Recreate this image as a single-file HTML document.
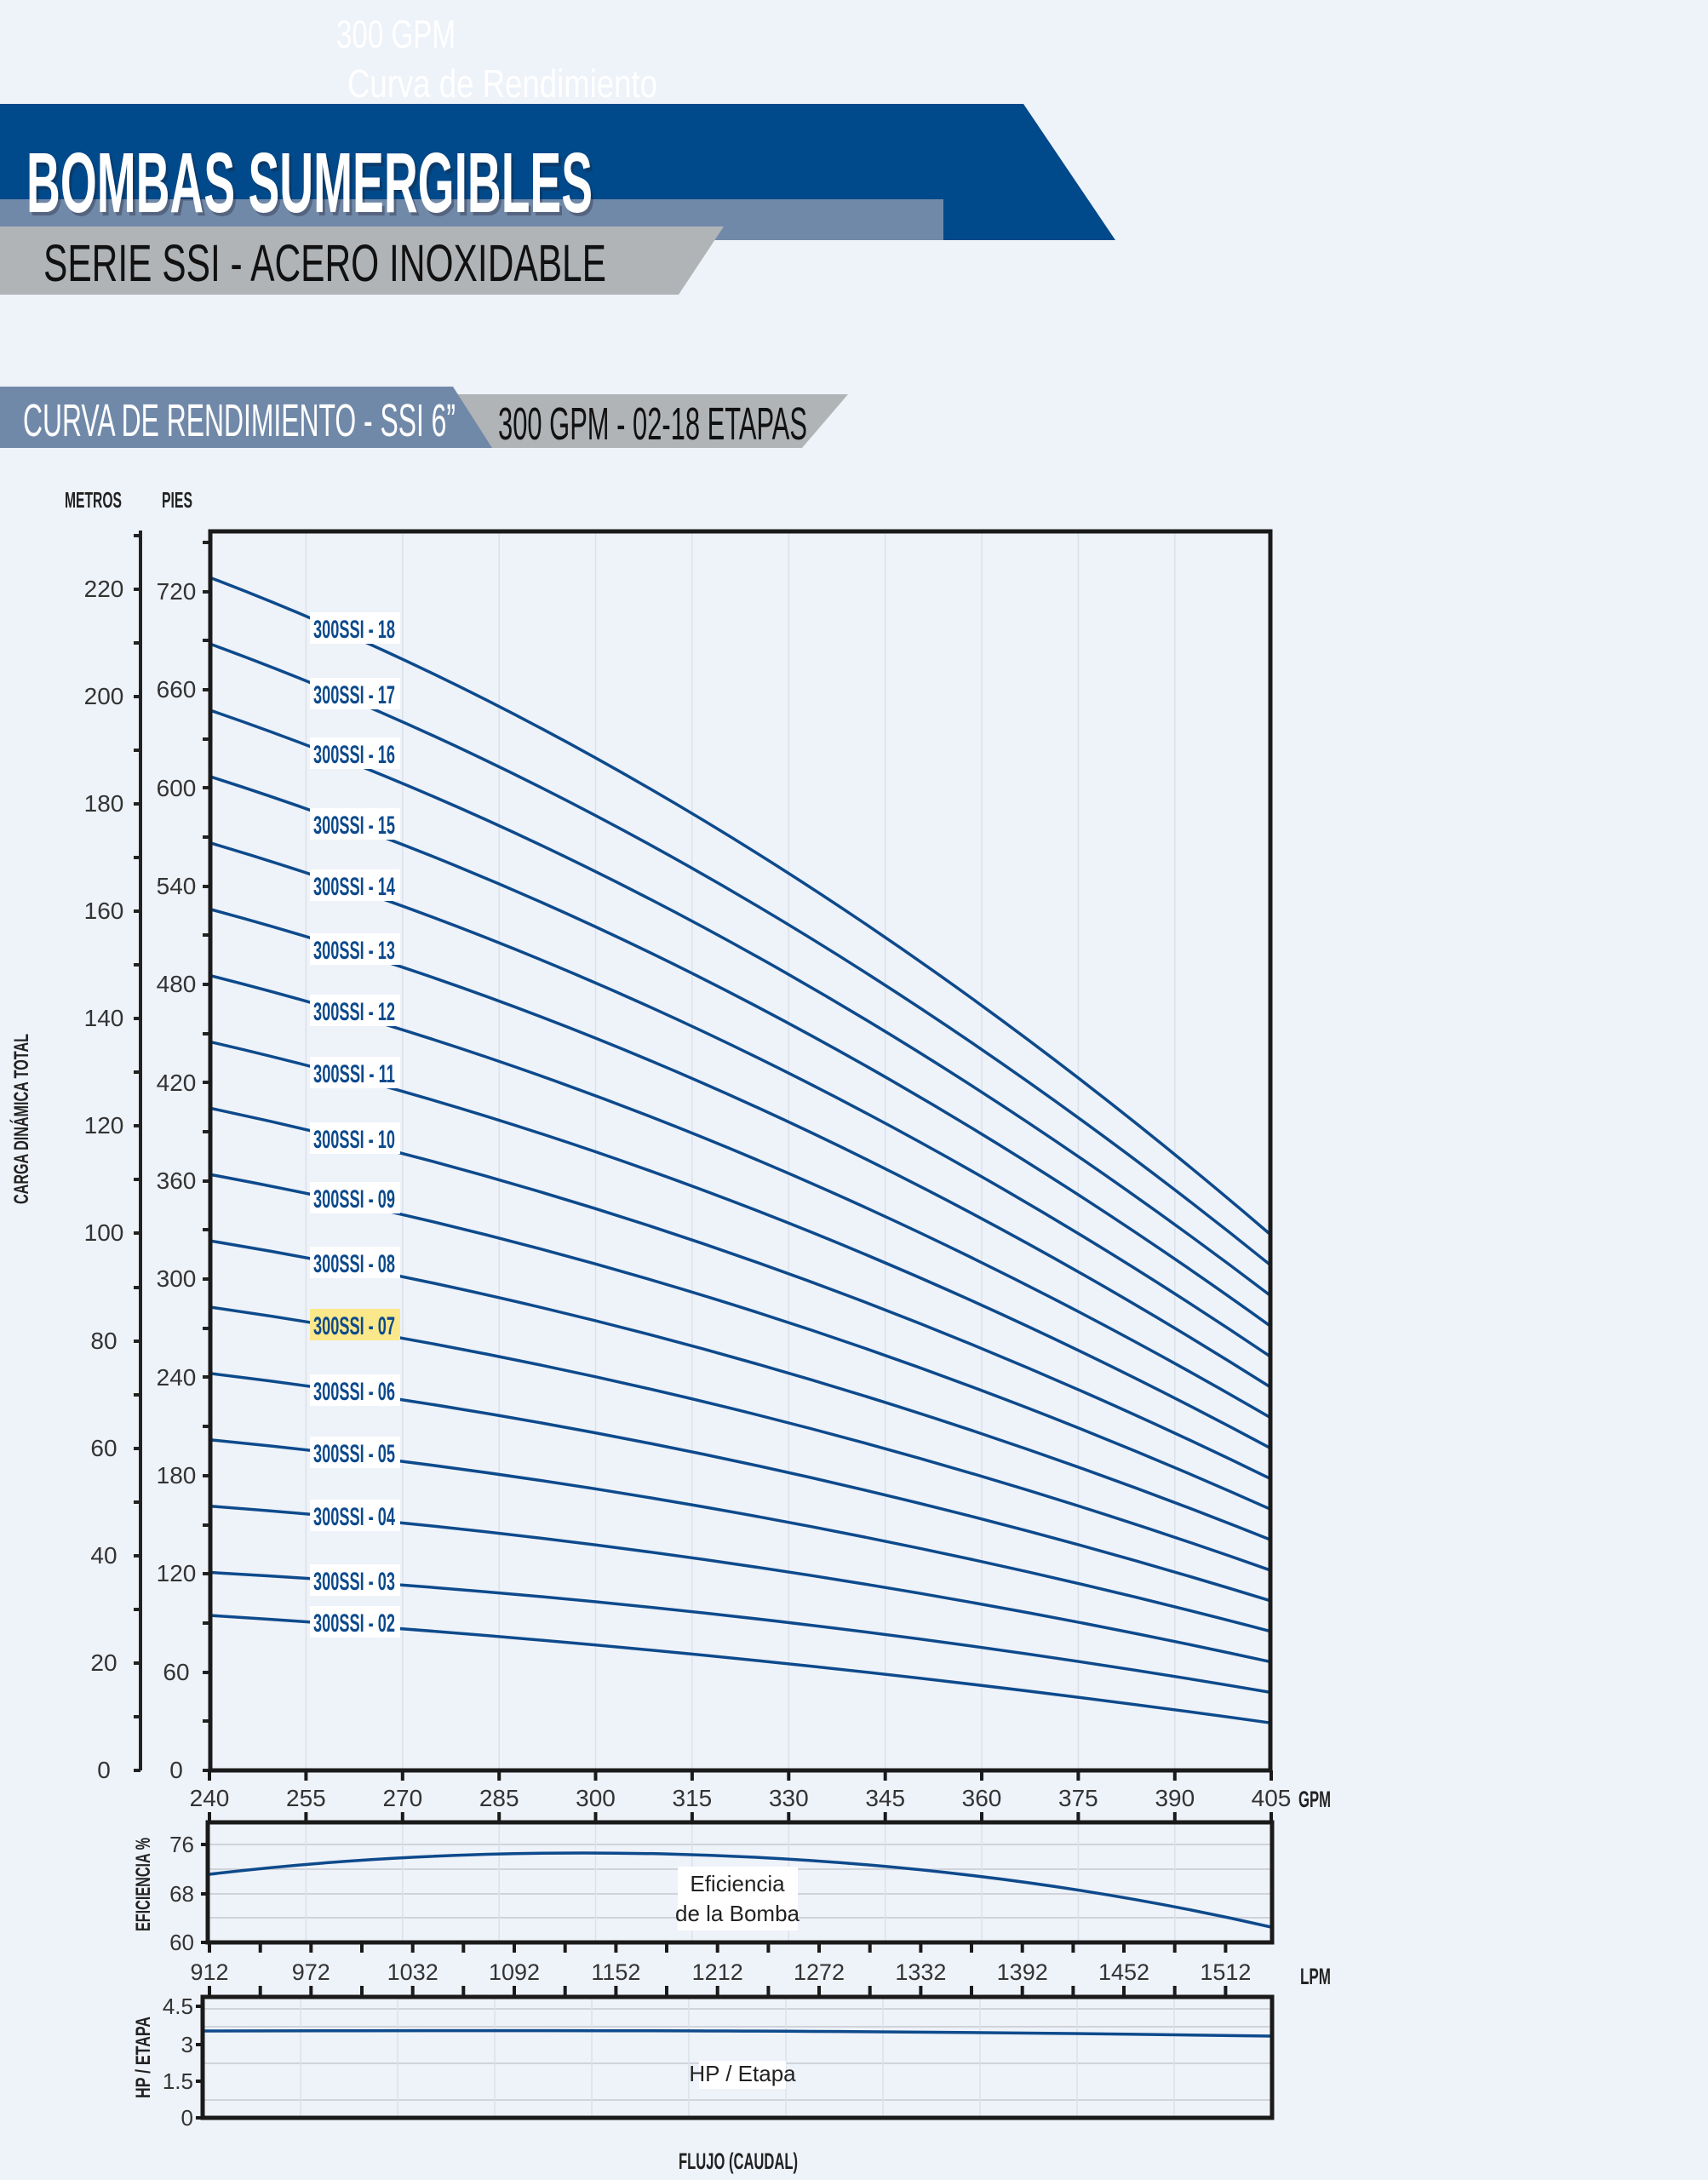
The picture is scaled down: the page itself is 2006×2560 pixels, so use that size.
<!DOCTYPE html>
<html><head><meta charset="utf-8"><style>
html,body{margin:0;padding:0;background:#eef2f9;}
svg{display:block;}
text{font-family:"Liberation Sans Narrow","Liberation Sans",sans-serif;}
</style></head><body>
<svg width="2006" height="2560" viewBox="0 0 2006 2560" xmlns="http://www.w3.org/2000/svg">
<rect width="2006" height="2560" fill="#eef2f9"/>
<!-- header -->
<text x="395" y="56" font-size="46" fill="#ffffff" textLength="140" lengthAdjust="spacingAndGlyphs">300 GPM</text>
<text x="408" y="114" font-size="46" fill="#ffffff" textLength="364" lengthAdjust="spacingAndGlyphs">Curva de Rendimiento</text>
<polygon points="0,122 1202,122 1310,282 0,282" fill="#00498a"/>
<rect x="0" y="234" width="1108" height="48" fill="#7189a9"/>
<polygon points="0,266 850,266 797,346 0,346" fill="#b1b4b7"/>
<text x="34" y="253" font-size="100" font-weight="bold" fill="#223" opacity="0.35" textLength="665" lengthAdjust="spacingAndGlyphs">BOMBAS SUMERGIBLES</text>
<text x="31" y="249" font-size="100" font-weight="bold" fill="#ffffff" textLength="665" lengthAdjust="spacingAndGlyphs">BOMBAS SUMERGIBLES</text>
<text x="51" y="330" font-size="61" fill="#111" textLength="661" lengthAdjust="spacingAndGlyphs">SERIE SSI - ACERO INOXIDABLE</text>
<polygon points="532,463 996,463 942,526 578,526" fill="#b1b4b7"/>
<polygon points="0,454 532,454 578,526 0,526" fill="#7189a9"/>
<text x="27" y="512" font-size="54" fill="#ffffff" textLength="508" lengthAdjust="spacingAndGlyphs">CURVA DE RENDIMIENTO - SSI 6”</text>
<text x="585" y="516" font-size="54" fill="#111" textLength="363" lengthAdjust="spacingAndGlyphs">300 GPM - 02-18 ETAPAS</text>

<!-- axis titles -->
<text x="76" y="596" font-size="26" font-weight="bold" fill="#222" textLength="67" lengthAdjust="spacingAndGlyphs">METROS</text>
<text x="190" y="596" font-size="26" font-weight="bold" fill="#222" textLength="36" lengthAdjust="spacingAndGlyphs">PIES</text>
<text transform="translate(33,1314) rotate(-90)" text-anchor="middle" font-size="24" font-weight="bold" fill="#222" textLength="200" lengthAdjust="spacingAndGlyphs">CARGA DINÁMICA TOTAL</text>

<!-- main plot grid -->
<g stroke="#dbe1ea" stroke-width="1.5">
<line x1="359.4" y1="623" x2="359.4" y2="2079"/><line x1="472.8" y1="623" x2="472.8" y2="2079"/><line x1="586.2" y1="623" x2="586.2" y2="2079"/><line x1="699.5" y1="623" x2="699.5" y2="2079"/><line x1="812.9" y1="623" x2="812.9" y2="2079"/><line x1="926.3" y1="623" x2="926.3" y2="2079"/><line x1="1039.7" y1="623" x2="1039.7" y2="2079"/><line x1="1153" y1="623" x2="1153" y2="2079"/><line x1="1266.4" y1="623" x2="1266.4" y2="2079"/><line x1="1379.8" y1="623" x2="1379.8" y2="2079"/>
</g>

<!-- metros axis -->
<line x1="165" y1="623" x2="165" y2="2079" stroke="#222" stroke-width="4"/>
<g stroke="#222" stroke-width="4">
<line x1="157" y1="2079" x2="165" y2="2079"/><line x1="157" y1="2016" x2="165" y2="2016"/><line x1="157" y1="1953" x2="165" y2="1953"/><line x1="157" y1="1890" x2="165" y2="1890"/><line x1="157" y1="1827" x2="165" y2="1827"/><line x1="157" y1="1764" x2="165" y2="1764"/><line x1="157" y1="1701" x2="165" y2="1701"/><line x1="157" y1="1638" x2="165" y2="1638"/><line x1="157" y1="1575" x2="165" y2="1575"/><line x1="157" y1="1512" x2="165" y2="1512"/><line x1="157" y1="1448" x2="165" y2="1448"/><line x1="157" y1="1385" x2="165" y2="1385"/><line x1="157" y1="1322" x2="165" y2="1322"/><line x1="157" y1="1259" x2="165" y2="1259"/><line x1="157" y1="1196" x2="165" y2="1196"/><line x1="157" y1="1133" x2="165" y2="1133"/><line x1="157" y1="1070" x2="165" y2="1070"/><line x1="157" y1="1007" x2="165" y2="1007"/><line x1="157" y1="944" x2="165" y2="944"/><line x1="157" y1="881" x2="165" y2="881"/><line x1="157" y1="818" x2="165" y2="818"/><line x1="157" y1="755" x2="165" y2="755"/><line x1="157" y1="692" x2="165" y2="692"/><line x1="157" y1="629" x2="165" y2="629"/>
</g>
<g font-size="28" fill="#333" text-anchor="middle">
<text x="122" y="2088">0</text><text x="122" y="1962">20</text><text x="122" y="1836">40</text><text x="122" y="1710">60</text><text x="122" y="1584">80</text><text x="122" y="1457">100</text><text x="122" y="1331">120</text><text x="122" y="1205">140</text><text x="122" y="1079">160</text><text x="122" y="953">180</text><text x="122" y="827">200</text><text x="122" y="701">220</text>
</g>
<!-- pies ticks -->
<g stroke="#222" stroke-width="4">
<line x1="238" y1="2079" x2="247" y2="2079"/><line x1="238" y1="2021" x2="247" y2="2021"/><line x1="238" y1="1964" x2="247" y2="1964"/><line x1="238" y1="1906" x2="247" y2="1906"/><line x1="238" y1="1848" x2="247" y2="1848"/><line x1="238" y1="1791" x2="247" y2="1791"/><line x1="238" y1="1733" x2="247" y2="1733"/><line x1="238" y1="1675" x2="247" y2="1675"/><line x1="238" y1="1617" x2="247" y2="1617"/><line x1="238" y1="1560" x2="247" y2="1560"/><line x1="238" y1="1502" x2="247" y2="1502"/><line x1="238" y1="1444" x2="247" y2="1444"/><line x1="238" y1="1387" x2="247" y2="1387"/><line x1="238" y1="1329" x2="247" y2="1329"/><line x1="238" y1="1271" x2="247" y2="1271"/><line x1="238" y1="1214" x2="247" y2="1214"/><line x1="238" y1="1156" x2="247" y2="1156"/><line x1="238" y1="1098" x2="247" y2="1098"/><line x1="238" y1="1041" x2="247" y2="1041"/><line x1="238" y1="983" x2="247" y2="983"/><line x1="238" y1="925" x2="247" y2="925"/><line x1="238" y1="868" x2="247" y2="868"/><line x1="238" y1="810" x2="247" y2="810"/><line x1="238" y1="752" x2="247" y2="752"/><line x1="238" y1="695" x2="247" y2="695"/><line x1="238" y1="637" x2="247" y2="637"/>
</g>
<g font-size="28" fill="#333" text-anchor="middle">
<text x="207" y="2088">0</text><text x="207" y="1973">60</text><text x="207" y="1857">120</text><text x="207" y="1742">180</text><text x="207" y="1627">240</text><text x="207" y="1511">300</text><text x="207" y="1396">360</text><text x="207" y="1281">420</text><text x="207" y="1165">480</text><text x="207" y="1050">540</text><text x="207" y="935">600</text><text x="207" y="819">660</text><text x="207" y="704">720</text>
</g>

<!-- curves -->
<g fill="none" stroke="#0d4a8c" stroke-width="3.5">
<path d="M246 1897 Q869.5 1935.9 1493 2023.3"/>
<path d="M246 1846.5 Q869.5 1880.7 1493 1987.5"/>
<path d="M246 1768.6 Q869.5 1814.9 1493 1951.7"/>
<path d="M246 1690.7 Q869.5 1751.1 1493 1915.9"/>
<path d="M246 1612.8 Q869.5 1687.3 1493 1880.1"/>
<path d="M246 1534.9 Q869.5 1623.4 1493 1844.3"/>
<path d="M246 1457 Q869.5 1559.6 1493 1808.5"/>
<path d="M246 1379.1 Q869.5 1493.8 1493 1772.7"/>
<path d="M246 1301.2 Q869.5 1432 1493 1736.9"/>
<path d="M246 1223.3 Q869.5 1366.1 1493 1701.1"/>
<path d="M246 1145.4 Q869.5 1302.3 1493 1665.3"/>
<path d="M246 1067.5 Q869.5 1234.5 1493 1629.5"/>
<path d="M246 989.6 Q869.5 1172.7 1493 1593.7"/>
<path d="M246 911.7 Q869.5 1108.8 1493 1557.9"/>
<path d="M246 833.8 Q869.5 1047 1493 1522.1"/>
<path d="M246 755.9 Q869.5 983.2 1493 1486.3"/>
<path d="M246 678 Q869.5 915.3 1493 1450.5"/>
</g>

<!-- labels -->
<g font-size="30" font-weight="bold" fill="#0d4a8c">
<rect x="364" y="719" width="106" height="37" fill="#fff"/><text x="368" y="749" textLength="96" lengthAdjust="spacingAndGlyphs">300SSI - 18</text>
<rect x="364" y="796" width="106" height="37" fill="#fff"/><text x="368" y="826" textLength="96" lengthAdjust="spacingAndGlyphs">300SSI - 17</text>
<rect x="364" y="866" width="106" height="37" fill="#fff"/><text x="368" y="896" textLength="96" lengthAdjust="spacingAndGlyphs">300SSI - 16</text>
<rect x="364" y="949" width="106" height="37" fill="#fff"/><text x="368" y="979" textLength="96" lengthAdjust="spacingAndGlyphs">300SSI - 15</text>
<rect x="364" y="1021" width="106" height="37" fill="#fff"/><text x="368" y="1051" textLength="96" lengthAdjust="spacingAndGlyphs">300SSI - 14</text>
<rect x="364" y="1096" width="106" height="37" fill="#fff"/><text x="368" y="1126" textLength="96" lengthAdjust="spacingAndGlyphs">300SSI - 13</text>
<rect x="364" y="1168" width="106" height="37" fill="#fff"/><text x="368" y="1198" textLength="96" lengthAdjust="spacingAndGlyphs">300SSI - 12</text>
<rect x="364" y="1241" width="106" height="37" fill="#fff"/><text x="368" y="1271" textLength="96" lengthAdjust="spacingAndGlyphs">300SSI - 11</text>
<rect x="364" y="1318" width="106" height="37" fill="#fff"/><text x="368" y="1348" textLength="96" lengthAdjust="spacingAndGlyphs">300SSI - 10</text>
<rect x="364" y="1388" width="106" height="37" fill="#fff"/><text x="368" y="1418" textLength="96" lengthAdjust="spacingAndGlyphs">300SSI - 09</text>
<rect x="364" y="1464" width="106" height="37" fill="#fff"/><text x="368" y="1494" textLength="96" lengthAdjust="spacingAndGlyphs">300SSI - 08</text>
<rect x="364" y="1537" width="106" height="37" fill="#fbe88a"/><text x="368" y="1567" textLength="96" lengthAdjust="spacingAndGlyphs">300SSI - 07</text>
<rect x="364" y="1614" width="106" height="37" fill="#fff"/><text x="368" y="1644" textLength="96" lengthAdjust="spacingAndGlyphs">300SSI - 06</text>
<rect x="364" y="1687" width="106" height="37" fill="#fff"/><text x="368" y="1717" textLength="96" lengthAdjust="spacingAndGlyphs">300SSI - 05</text>
<rect x="364" y="1761" width="106" height="37" fill="#fff"/><text x="368" y="1791" textLength="96" lengthAdjust="spacingAndGlyphs">300SSI - 04</text>
<rect x="364" y="1837" width="106" height="37" fill="#fff"/><text x="368" y="1867" textLength="96" lengthAdjust="spacingAndGlyphs">300SSI - 03</text>
<rect x="364" y="1886" width="106" height="37" fill="#fff"/><text x="368" y="1916" textLength="96" lengthAdjust="spacingAndGlyphs">300SSI - 02</text>
</g>

<!-- main frame -->
<rect x="247" y="624" width="1245" height="1455" fill="none" stroke="#1a1a1a" stroke-width="5"/>
<!-- gpm ticks -->
<g stroke="#1a1a1a" stroke-width="4">
<line x1="246" y1="2079" x2="246" y2="2091"/><line x1="359.4" y1="2079" x2="359.4" y2="2091"/><line x1="472.8" y1="2079" x2="472.8" y2="2091"/><line x1="586.2" y1="2079" x2="586.2" y2="2091"/><line x1="699.5" y1="2079" x2="699.5" y2="2091"/><line x1="812.9" y1="2079" x2="812.9" y2="2091"/><line x1="926.3" y1="2079" x2="926.3" y2="2091"/><line x1="1039.7" y1="2079" x2="1039.7" y2="2091"/><line x1="1153" y1="2079" x2="1153" y2="2091"/><line x1="1266.4" y1="2079" x2="1266.4" y2="2091"/><line x1="1379.8" y1="2079" x2="1379.8" y2="2091"/><line x1="1493" y1="2079" x2="1493" y2="2091"/>
</g>
<g font-size="28" fill="#333" text-anchor="middle">
<text x="246" y="2121">240</text><text x="359.4" y="2121">255</text><text x="472.8" y="2121">270</text><text x="586.2" y="2121">285</text><text x="699.5" y="2121">300</text><text x="812.9" y="2121">315</text><text x="926.3" y="2121">330</text><text x="1039.7" y="2121">345</text><text x="1153" y="2121">360</text><text x="1266.4" y="2121">375</text><text x="1379.8" y="2121">390</text><text x="1493" y="2121">405</text>
</g>
<text x="1525" y="2122" font-size="27" font-weight="bold" fill="#222" textLength="38" lengthAdjust="spacingAndGlyphs">GPM</text>

<!-- efficiency plot -->
<g stroke="#d0d4da" stroke-width="2">
<line x1="246" y1="2166" x2="1493" y2="2166"/><line x1="246" y1="2195" x2="1493" y2="2195"/><line x1="246" y1="2224" x2="1493" y2="2224"/><line x1="246" y1="2252" x2="1493" y2="2252"/>
</g>
<g stroke="#dbe1ea" stroke-width="1.5">
<line x1="359.4" y1="2139" x2="359.4" y2="2281"/><line x1="472.8" y1="2139" x2="472.8" y2="2281"/><line x1="586.2" y1="2139" x2="586.2" y2="2281"/><line x1="699.5" y1="2139" x2="699.5" y2="2281"/><line x1="812.9" y1="2139" x2="812.9" y2="2281"/><line x1="926.3" y1="2139" x2="926.3" y2="2281"/><line x1="1039.7" y1="2139" x2="1039.7" y2="2281"/><line x1="1153" y1="2139" x2="1153" y2="2281"/><line x1="1266.4" y1="2139" x2="1266.4" y2="2281"/><line x1="1379.8" y1="2139" x2="1379.8" y2="2281"/>
</g>
<path d="M246 2201 C520 2168, 1000 2150, 1493 2263" fill="none" stroke="#0d4a8c" stroke-width="3.5"/>
<rect x="796" y="2192" width="141" height="75" fill="#fff"/>
<text x="866" y="2221" font-size="26" fill="#222" text-anchor="middle">Eficiencia</text>
<text x="866" y="2256" font-size="26" fill="#222" text-anchor="middle">de la Bomba</text>
<rect x="244" y="2140" width="1250" height="141" fill="none" stroke="#1a1a1a" stroke-width="5"/>
<g stroke="#1a1a1a" stroke-width="4">
<line x1="246" y1="2128" x2="246" y2="2140"/><line x1="359.4" y1="2128" x2="359.4" y2="2140"/><line x1="472.8" y1="2128" x2="472.8" y2="2140"/><line x1="586.2" y1="2128" x2="586.2" y2="2140"/><line x1="699.5" y1="2128" x2="699.5" y2="2140"/><line x1="812.9" y1="2128" x2="812.9" y2="2140"/><line x1="926.3" y1="2128" x2="926.3" y2="2140"/><line x1="1039.7" y1="2128" x2="1039.7" y2="2140"/><line x1="1153" y1="2128" x2="1153" y2="2140"/><line x1="1266.4" y1="2128" x2="1266.4" y2="2140"/><line x1="1379.8" y1="2128" x2="1379.8" y2="2140"/><line x1="1493" y1="2128" x2="1493" y2="2140"/>
<line x1="236" y1="2166" x2="244" y2="2166"/><line x1="236" y1="2224" x2="244" y2="2224"/><line x1="236" y1="2281" x2="244" y2="2281"/>
</g>
<g font-size="26" fill="#333" text-anchor="end">
<text x="228" y="2175">76</text><text x="228" y="2233">68</text><text x="228" y="2290">60</text>
</g>
<text transform="translate(176,2213) rotate(-90)" text-anchor="middle" font-size="24" font-weight="bold" fill="#222" textLength="110" lengthAdjust="spacingAndGlyphs">EFICIENCIA %</text>
<!-- LPM ticks -->
<g stroke="#1a1a1a" stroke-width="4">
<line x1="246" y1="2281" x2="246" y2="2293"/><line x1="305.7" y1="2281" x2="305.7" y2="2293"/><line x1="365.3" y1="2281" x2="365.3" y2="2293"/><line x1="425" y1="2281" x2="425" y2="2293"/><line x1="484.7" y1="2281" x2="484.7" y2="2293"/><line x1="544.3" y1="2281" x2="544.3" y2="2293"/><line x1="604" y1="2281" x2="604" y2="2293"/><line x1="663.7" y1="2281" x2="663.7" y2="2293"/><line x1="723.4" y1="2281" x2="723.4" y2="2293"/><line x1="783" y1="2281" x2="783" y2="2293"/><line x1="842.7" y1="2281" x2="842.7" y2="2293"/><line x1="902.4" y1="2281" x2="902.4" y2="2293"/><line x1="962" y1="2281" x2="962" y2="2293"/><line x1="1021.7" y1="2281" x2="1021.7" y2="2293"/><line x1="1081.4" y1="2281" x2="1081.4" y2="2293"/><line x1="1141" y1="2281" x2="1141" y2="2293"/><line x1="1200.7" y1="2281" x2="1200.7" y2="2293"/><line x1="1260.4" y1="2281" x2="1260.4" y2="2293"/><line x1="1320" y1="2281" x2="1320" y2="2293"/><line x1="1379.7" y1="2281" x2="1379.7" y2="2293"/><line x1="1439.4" y1="2281" x2="1439.4" y2="2293"/>
<line x1="246" y1="2332" x2="246" y2="2344"/><line x1="305.7" y1="2332" x2="305.7" y2="2344"/><line x1="365.3" y1="2332" x2="365.3" y2="2344"/><line x1="425" y1="2332" x2="425" y2="2344"/><line x1="484.7" y1="2332" x2="484.7" y2="2344"/><line x1="544.3" y1="2332" x2="544.3" y2="2344"/><line x1="604" y1="2332" x2="604" y2="2344"/><line x1="663.7" y1="2332" x2="663.7" y2="2344"/><line x1="723.4" y1="2332" x2="723.4" y2="2344"/><line x1="783" y1="2332" x2="783" y2="2344"/><line x1="842.7" y1="2332" x2="842.7" y2="2344"/><line x1="902.4" y1="2332" x2="902.4" y2="2344"/><line x1="962" y1="2332" x2="962" y2="2344"/><line x1="1021.7" y1="2332" x2="1021.7" y2="2344"/><line x1="1081.4" y1="2332" x2="1081.4" y2="2344"/><line x1="1141" y1="2332" x2="1141" y2="2344"/><line x1="1200.7" y1="2332" x2="1200.7" y2="2344"/><line x1="1260.4" y1="2332" x2="1260.4" y2="2344"/><line x1="1320" y1="2332" x2="1320" y2="2344"/><line x1="1379.7" y1="2332" x2="1379.7" y2="2344"/><line x1="1439.4" y1="2332" x2="1439.4" y2="2344"/>
</g>
<g font-size="27" fill="#333" text-anchor="middle">
<text x="246" y="2325">912</text><text x="365.3" y="2325">972</text><text x="484.7" y="2325">1032</text><text x="604" y="2325">1092</text><text x="723.4" y="2325">1152</text><text x="842.7" y="2325">1212</text><text x="962" y="2325">1272</text><text x="1081.4" y="2325">1332</text><text x="1200.7" y="2325">1392</text><text x="1320" y="2325">1452</text><text x="1439.4" y="2325">1512</text>
</g>
<text x="1527" y="2330" font-size="27" font-weight="bold" fill="#222" textLength="36" lengthAdjust="spacingAndGlyphs">LPM</text>

<!-- HP plot -->
<g stroke="#d0d4da" stroke-width="2">
<line x1="240" y1="2359" x2="1493" y2="2359"/><line x1="240" y1="2380" x2="1493" y2="2380"/><line x1="240" y1="2423" x2="1493" y2="2423"/><line x1="240" y1="2466" x2="1493" y2="2466"/>
</g>
<g stroke="#dbe1ea" stroke-width="1.5">
<line x1="353" y1="2344" x2="353" y2="2487"/><line x1="467" y1="2344" x2="467" y2="2487"/><line x1="581" y1="2344" x2="581" y2="2487"/><line x1="695" y1="2344" x2="695" y2="2487"/><line x1="809" y1="2344" x2="809" y2="2487"/><line x1="923" y1="2344" x2="923" y2="2487"/><line x1="1037" y1="2344" x2="1037" y2="2487"/><line x1="1151" y1="2344" x2="1151" y2="2487"/><line x1="1265" y1="2344" x2="1265" y2="2487"/><line x1="1379" y1="2344" x2="1379" y2="2487"/>
</g>
<path d="M240 2385 C700 2384, 1000 2384, 1493 2391" fill="none" stroke="#0d4a8c" stroke-width="3.5"/>
<rect x="821" y="2420" width="102" height="33" fill="#fff"/>
<text x="872" y="2444" font-size="26" fill="#222" text-anchor="middle">HP / Etapa</text>
<rect x="238" y="2345" width="1256" height="142" fill="none" stroke="#1a1a1a" stroke-width="5"/>
<g stroke="#1a1a1a" stroke-width="4">
<line x1="230" y1="2356" x2="238" y2="2356"/><line x1="230" y1="2401" x2="238" y2="2401"/><line x1="230" y1="2444" x2="238" y2="2444"/><line x1="230" y1="2487" x2="238" y2="2487"/>
</g>
<g font-size="26" fill="#333" text-anchor="end">
<text x="227" y="2365">4.5</text><text x="227" y="2410">3</text><text x="227" y="2453">1.5</text><text x="227" y="2496">0</text>
</g>
<text transform="translate(176,2416) rotate(-90)" text-anchor="middle" font-size="24" font-weight="bold" fill="#222" textLength="96" lengthAdjust="spacingAndGlyphs">HP / ETAPA</text>
<text x="867" y="2547" font-size="27" font-weight="bold" fill="#222" text-anchor="middle" textLength="140" lengthAdjust="spacingAndGlyphs">FLUJO (CAUDAL)</text>
</svg>
</body></html>
